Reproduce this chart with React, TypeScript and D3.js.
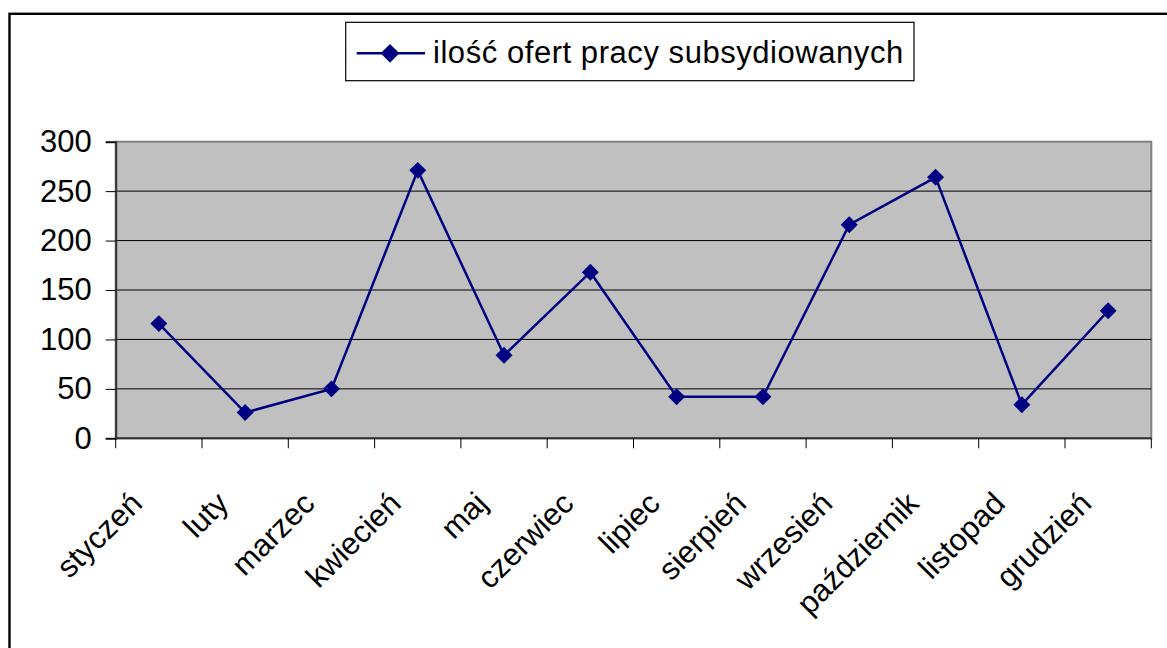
import React, { useEffect, useRef } from 'react';
import * as d3 from 'd3';

const months = ['styczeń', 'luty', 'marzec', 'kwiecień', 'maj', 'czerwiec', 'lipiec', 'sierpień', 'wrzesień', 'październik', 'listopad', 'grudzień'];
const values = [116, 26, 50, 271, 84, 168, 42, 42, 216, 264, 34, 129];
const yTicks = [0, 50, 100, 150, 200, 250, 300];
const seriesName = 'ilość ofert pracy subsydiowanych';

const W = 1167;
const H = 648;
const FONT = '"Liberation Sans", Arial, sans-serif';
const NAVY = '#000080';

export default function App() {
    const ref = useRef<SVGSVGElement | null>(null);

    useEffect(() => {
        drawChart();
    }, []);

    function drawChart() {
        const svg = d3.select(ref.current);
        svg.selectAll('*').remove();

        const left = 115.7, right = 1151.3, top = 141.7, bottom = 438.3;

        // outer chart frame (cut off at right / bottom)
        svg.append('rect')
            .attr('x', 9.5).attr('y', 13.8)
            .attr('width', 1300).attr('height', 800)
            .attr('fill', '#fff')
            .attr('stroke', '#000')
            .attr('stroke-width', 2.4);

        const xScale = d3.scaleBand<string>()
            .domain(months)
            .range([left, right])
            .padding(0);

        const yScale = d3.scaleLinear()
            .domain([0, 300])
            .range([bottom, top]);

        // plot area
        svg.append('rect')
            .attr('x', left).attr('y', top)
            .attr('width', right - left).attr('height', bottom - top)
            .attr('fill', '#c0c0c0')
            .attr('stroke', '#808080')
            .attr('stroke-width', 2);

        // grid lines
        svg.append('g')
            .selectAll('line')
            .data(yTicks.filter(t => t > 0 && t < 300)).enter()
            .append('line')
            .attr('x1', left).attr('x2', right)
            .attr('y1', d => yScale(d)).attr('y2', d => yScale(d))
            .attr('stroke', '#000')
            .attr('stroke-width', 1);

        // y axis
        const yAxis = svg.append('g')
            .attr('transform', `translate(${left}, 0)`)
            .call(d3.axisLeft(yScale).tickValues(yTicks).tickSize(10).tickPadding(14).tickFormat(d3.format('d')));
        yAxis.select('.domain').attr('stroke', '#333').attr('stroke-width', 2);
        yAxis.selectAll('.tick line').attr('stroke', '#000');
        yAxis.selectAll('.tick text')
            .attr('font-family', FONT)
            .attr('font-size', 31)
            .attr('fill', '#000');

        // x axis line + ticks at category boundaries
        svg.append('line')
            .attr('x1', left).attr('x2', right)
            .attr('y1', bottom).attr('y2', bottom)
            .attr('stroke', '#333').attr('stroke-width', 2);

        const bounds = months.map(m => xScale(m) as number).concat([right]);
        svg.append('g')
            .selectAll('line')
            .data(bounds).enter()
            .append('line')
            .attr('x1', d => d).attr('x2', d => d)
            .attr('y1', bottom).attr('y2', bottom + 10)
            .attr('stroke', '#000').attr('stroke-width', 1);

        // rotated category labels
        svg.append('g')
            .selectAll('text')
            .data(months).enter()
            .append('text')
            .attr('transform', d => `translate(${(xScale(d) as number) + xScale.bandwidth() / 2 - 15}, ${bottom + 67}) rotate(-45)`)
            .attr('text-anchor', 'end')
            .attr('font-family', FONT)
            .attr('font-size', 31)
            .attr('fill', '#000')
            .text(d => d);

        // series line
        const cx = (i: number) => (xScale(months[i]) as number) + xScale.bandwidth() / 2;
        const line = d3.line<number>()
            .x((d, i) => cx(i))
            .y(d => yScale(d));

        svg.append('path')
            .datum(values)
            .attr('d', line)
            .attr('fill', 'none')
            .attr('stroke', NAVY)
            .attr('stroke-width', 2.5);

        const diamond = d3.symbol().type(d3.symbolSquare).size(144);
        svg.append('g')
            .selectAll('path')
            .data(values).enter()
            .append('path')
            .attr('d', diamond)
            .attr('transform', (d, i) => `translate(${cx(i)}, ${yScale(d)}) rotate(45)`)
            .attr('fill', NAVY);

        // legend
        const legend = svg.append('g');
        legend.append('rect')
            .attr('x', 345.7).attr('y', 22.3)
            .attr('width', 914 - 345.7).attr('height', 80.7 - 22.3)
            .attr('fill', '#fff')
            .attr('stroke', '#000')
            .attr('stroke-width', 1.2);
        legend.append('line')
            .attr('x1', 356.7).attr('x2', 425)
            .attr('y1', 53.3).attr('y2', 53.3)
            .attr('stroke', NAVY).attr('stroke-width', 2.5);
        legend.append('path')
            .attr('d', d3.symbol().type(d3.symbolSquare).size(174))
            .attr('transform', 'translate(390, 53.3) rotate(45)')
            .attr('fill', NAVY);
        legend.append('text')
            .attr('x', 433).attr('y', 63)
            .attr('font-family', FONT)
            .attr('font-size', 31)
            .attr('letter-spacing', 0.55)
            .attr('fill', '#000')
            .text(seriesName);
    }

    return (
        <div>
            <svg ref={ref} width={W} height={H} style={{ position: 'absolute', left: 0, top: 0, background: '#fff' }} />
        </div>
    );
}
